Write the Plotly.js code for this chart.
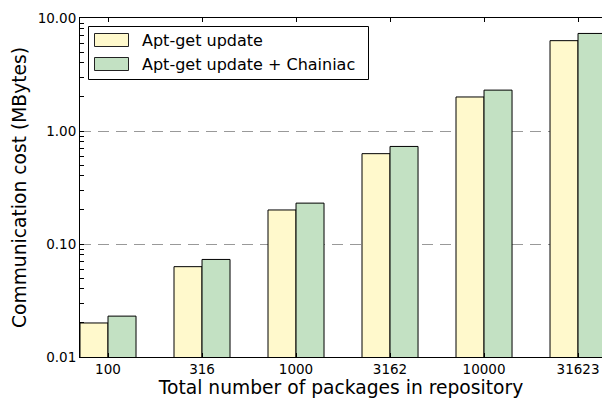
<!DOCTYPE html>
<html>
<head>
<meta charset="utf-8">
<script src="https://cdn.plot.ly/plotly-3.0.1.min.js"></script>
<style>body{margin:0;padding:0;background:#fff}#chart{width:602px;height:400px}</style>
</head>
<body>
<div id="chart"></div>
<script>
const categories = ["100", "316", "1000", "3162", "10000", "31623"];
const aptGet = [0.020, 0.063, 0.20, 0.63, 2.0, 6.3];
const aptGetChainiac = [0.023, 0.073, 0.23, 0.73, 2.3, 7.3];
const seriesNames = ["Apt-get update", "Apt-get update + Chainiac"];
const seriesColors = ["#fff9cc", "#c3e1c3"];
const yTickVals = [0.01, 0.02, 0.03, 0.04, 0.05, 0.06, 0.07, 0.08, 0.09,
                   0.1, 0.2, 0.3, 0.4, 0.5, 0.6, 0.7, 0.8, 0.9,
                   1, 2, 3, 4, 5, 6, 7, 8, 9, 10];
const yTickText = ["0.01", "", "", "", "", "", "", "", "",
                   "0.10", "", "", "", "", "", "", "", "",
                   "1.00", "", "", "", "", "", "", "", "", "10.00"];

const font = "DejaVu Sans, sans-serif";
const traces = [
  {type: "bar", x: categories, y: aptGet, name: seriesNames[0],
   width: 0.298, offset: -0.298,
   marker: {color: seriesColors[0], line: {color: "#000", width: 1}}},
  {type: "bar", x: categories, y: aptGetChainiac, name: seriesNames[1],
   width: 0.298, offset: 0,
   marker: {color: seriesColors[1], line: {color: "#000", width: 1}}}
];

// custom legend (matplotlib-style wide patches), positioned in paper coords
const L = 80, T = 18, W = 522, H = 339;
const px = v => (v - L) / W;
const py = v => 1 - (v - T) / H;
const gridDash = "11px,7px";
const shapes = [
  // dashed horizontal gridlines at the decades 1 and 0.1 (half-pixel offset for crisp lines)
  {type: "line", xref: "paper", yref: "paper", x0: 0, x1: 1, y0: py(131.5), y1: py(131.5),
   line: {color: "#999", width: 1, dash: gridDash}, layer: "below"},
  {type: "line", xref: "paper", yref: "paper", x0: 0, x1: 1, y0: py(244.5), y1: py(244.5),
   line: {color: "#999", width: 1, dash: gridDash}, layer: "below"},
  {type: "rect", xref: "paper", yref: "paper", x0: px(88.5), x1: px(368.5), y0: py(79.5), y1: py(26.5),
   line: {color: "#000", width: 1}, fillcolor: "#fff", layer: "above"},
  {type: "rect", xref: "paper", yref: "paper", x0: px(94.5), x1: px(128.5), y0: py(46.5), y1: py(33.5),
   line: {color: "#222", width: 1}, fillcolor: seriesColors[0], layer: "above"},
  {type: "rect", xref: "paper", yref: "paper", x0: px(94.5), x1: px(128.5), y0: py(70.5), y1: py(57.5),
   line: {color: "#222", width: 1}, fillcolor: seriesColors[1], layer: "above"}
];
const annotations = [
  {xref: "paper", yref: "paper", x: px(140), y: py(40), xanchor: "left", yanchor: "middle",
   text: seriesNames[0], showarrow: false, font: {family: font, size: 16, color: "#000"}},
  {xref: "paper", yref: "paper", x: px(140), y: py(64), xanchor: "left", yanchor: "middle",
   text: seriesNames[1], showarrow: false, font: {family: font, size: 16, color: "#000"}}
];

const layout = {
  width: 602, height: 400,
  margin: {l: 80, r: 0, t: 18, b: 43},
  paper_bgcolor: "#fff", plot_bgcolor: "#fff",
  font: {family: font, color: "#000", size: 13.5},
  barmode: "group",
  showlegend: false,
  shapes: shapes,
  annotations: annotations,
  xaxis: {type: "category", range: [-0.298, 5.255],
          showline: true, linecolor: "#000", linewidth: 1, mirror: "ticks",
          ticks: "inside", ticklen: 4, tickcolor: "#000",
          showgrid: false, zeroline: false,
          tickfont: {family: font, size: 13.5},
          title: {text: "Total number of packages in repository", font: {family: font, size: 18.7}, standoff: 2}},
  yaxis: {type: "log", range: [-2, 1],
          tickmode: "array", tickvals: yTickVals, ticktext: yTickText,
          showline: true, linecolor: "#000", linewidth: 1, mirror: false,
          ticks: "inside", ticklen: 4, tickcolor: "#000", tickwidth: 1,
          showgrid: false, zeroline: false,
          tickfont: {family: font, size: 13.5},
          title: {text: "Communication cost (MBytes)", font: {family: font, size: 18.7}, standoff: 6}}
};
Plotly.newPlot("chart", traces, layout, {displayModeBar: false, staticPlot: true});
</script>
</body>
</html>
